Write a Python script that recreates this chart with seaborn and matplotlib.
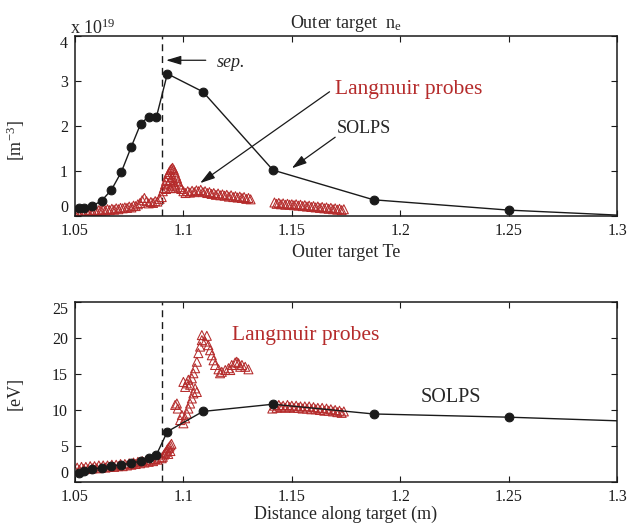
import matplotlib
matplotlib.use("Agg")
import matplotlib.pyplot as plt
import seaborn as sns

# ---------------- data ----------------
solps_x = [1.052, 1.054, 1.058, 1.0623, 1.0668, 1.0714, 1.0759, 1.0803, 1.084, 1.0875,
           1.0926, 1.109, 1.1413, 1.1877, 1.2502, 1.300]
solps_ne = [0.18, 0.18, 0.22, 0.34, 0.58, 0.98, 1.53, 2.05, 2.21, 2.19,
            3.16, 2.76, 1.02, 0.36, 0.13, 0.02]          # x 1e19 m^-3
solps_te = [1.3, 1.5, 1.75, 2.0, 2.2, 2.4, 2.6, 2.9, 3.3, 3.75,
            7.0, 9.8, 10.8, 9.45, 9.0, 8.5]              # eV

# Langmuir probes, ne (x 1e19 m^-3)
lp_ne_x_a = [1.050, 1.051, 1.052, 1.053, 1.054, 1.055, 1.056, 1.057, 1.058, 1.059,
             1.060, 1.061, 1.062, 1.063, 1.064, 1.065, 1.066, 1.067, 1.068, 1.069,
             1.070, 1.071, 1.072, 1.073, 1.074, 1.075, 1.076, 1.077, 1.078, 1.079,
             1.080, 1.081, 1.082, 1.083, 1.084, 1.085, 1.086, 1.087, 1.088, 1.089, 1.090]
lp_ne_a = [0.09, 0.11, 0.08, 0.11, 0.09, 0.12, 0.10, 0.12, 0.10, 0.13,
           0.11, 0.13, 0.12, 0.14, 0.12, 0.15, 0.13, 0.16, 0.14, 0.17,
           0.15, 0.18, 0.17, 0.19, 0.18, 0.21, 0.19, 0.23, 0.22, 0.26,
           0.29, 0.35, 0.40, 0.33, 0.28, 0.31, 0.29, 0.33, 0.32, 0.38, 0.42]
lp_ne_x_b = [1.0905, 1.091, 1.0915, 1.092, 1.0925, 1.093, 1.0935, 1.094, 1.0945, 1.095,
             1.0955, 1.096, 1.0965, 1.097, 1.0975, 1.098, 1.0985, 1.099,
             1.092, 1.093, 1.094, 1.094, 1.095, 1.095, 1.0955, 1.096, 1.0965]
lp_ne_b = [0.55, 0.62, 0.70, 0.78, 0.86, 0.93, 0.98, 1.02, 1.05, 1.07,
           1.03, 0.97, 0.90, 0.84, 0.77, 0.70, 0.64, 0.60,
           0.60, 0.72, 0.62, 0.80, 0.66, 0.86, 0.75, 0.68, 0.62]
lp_ne_x_c = [1.100, 1.101, 1.102, 1.103, 1.104, 1.105, 1.106, 1.107, 1.108, 1.109,
             1.110, 1.111, 1.112, 1.113, 1.114, 1.115, 1.116, 1.117, 1.118, 1.119,
             1.120, 1.121, 1.122, 1.123, 1.124, 1.125, 1.126, 1.127, 1.128, 1.129,
             1.130, 1.131]
lp_ne_c = [0.55, 0.51, 0.55, 0.52, 0.56, 0.53, 0.57, 0.55, 0.58, 0.53,
           0.55, 0.51, 0.53, 0.49, 0.51, 0.47, 0.50, 0.46, 0.48, 0.45,
           0.47, 0.43, 0.46, 0.42, 0.44, 0.41, 0.43, 0.40, 0.42, 0.38,
           0.40, 0.37]
lp_ne_x_d = [1.142, 1.143, 1.144, 1.145, 1.146, 1.147, 1.148, 1.149, 1.150, 1.151,
             1.152, 1.153, 1.154, 1.155, 1.156, 1.157, 1.158, 1.159, 1.160, 1.161,
             1.162, 1.163, 1.164, 1.165, 1.166, 1.167, 1.168, 1.169, 1.170, 1.171,
             1.172, 1.173, 1.174]
lp_ne_d = [0.30, 0.27, 0.29, 0.26, 0.28, 0.25, 0.27, 0.25, 0.26, 0.24,
           0.26, 0.23, 0.25, 0.22, 0.24, 0.21, 0.23, 0.20, 0.22, 0.19,
           0.21, 0.18, 0.20, 0.17, 0.19, 0.16, 0.18, 0.15, 0.17, 0.14,
           0.16, 0.13, 0.15]

# Langmuir probes, Te (eV)
lp_te_x_a = [1.050, 1.051, 1.052, 1.053, 1.054, 1.055, 1.056, 1.057, 1.058, 1.059,
             1.060, 1.061, 1.062, 1.063, 1.064, 1.065, 1.066, 1.067, 1.068, 1.069,
             1.070, 1.071, 1.072, 1.073, 1.074, 1.075, 1.076, 1.077, 1.078, 1.079,
             1.080, 1.081, 1.082, 1.083, 1.084, 1.085, 1.086, 1.087, 1.088, 1.089, 1.090]
lp_te_a = [1.6, 2.0, 1.7, 2.1, 1.8, 2.1, 1.8, 2.2, 1.9, 2.2,
           1.9, 2.3, 2.0, 2.3, 2.0, 2.3, 2.1, 2.4, 2.1, 2.4,
           2.2, 2.5, 2.2, 2.5, 2.3, 2.6, 2.4, 2.7, 2.5, 2.8,
           2.6, 2.9, 2.7, 3.0, 2.8, 3.1, 2.9, 3.2, 3.1, 3.4, 3.3]
lp_te_x_b = [1.0905, 1.091, 1.0915, 1.092, 1.0925, 1.093, 1.0935, 1.094, 1.0945, 1.093, 1.094,
             1.0962, 1.0970, 1.0974, 1.0993, 1.0985, 1.1000, 1.1008, 1.1016, 1.1023,
             1.1031, 1.1039, 1.1046, 1.1054, 1.1062, 1.1000, 1.1008, 1.1016, 1.1031,
             1.1023, 1.1039, 1.1046, 1.1054, 1.1062, 1.1069, 1.1077, 1.1085, 1.1085,
             1.1108, 1.1100, 1.1115, 1.1123, 1.1131, 1.1139, 1.1146, 1.1162, 1.1177,
             1.1193, 1.1208, 1.1223, 1.1239, 1.1254, 1.1270, 1.1285, 1.1300, 1.1169,
             1.1216, 1.1262, 1.1246]
lp_te_b = [3.5, 3.8, 4.0, 4.2, 4.5, 4.7, 4.9, 5.1, 5.3, 3.9, 4.3,
           10.7, 10.9, 10.2, 9.3, 8.6, 8.15, 8.85, 9.5, 10.2,
           10.9, 11.6, 12.3, 13.0, 12.5, 13.9, 13.2, 13.7, 13.5,
           14.2, 14.4, 15.1, 15.8, 16.7, 17.9, 18.8, 19.7, 20.4,
           20.3, 19.5, 19.0, 18.3, 17.6, 16.9, 16.25, 15.65, 15.3,
           15.55, 15.8, 16.25, 16.6, 16.5, 16.25, 16.0, 15.65, 15.1,
           15.55, 16.0, 16.7]
lp_te_x_c = [1.141, 1.142, 1.143, 1.144, 1.145, 1.146, 1.147, 1.148, 1.149, 1.150,
             1.151, 1.152, 1.153, 1.154, 1.155, 1.156, 1.157, 1.158, 1.159, 1.160,
             1.161, 1.162, 1.163, 1.164, 1.165, 1.166, 1.167, 1.168, 1.169, 1.170,
             1.171, 1.172, 1.173, 1.174]
lp_te_c = [10.2, 10.6, 10.3, 10.7, 10.4, 10.6, 10.3, 10.7, 10.4, 10.6,
           10.3, 10.6, 10.3, 10.5, 10.2, 10.5, 10.2, 10.5, 10.1, 10.4,
           10.1, 10.3, 10.0, 10.3, 9.9, 10.2, 9.9, 10.1, 9.8, 10.0,
           9.7, 9.9, 9.6, 9.8]

sep_x = 1.09
x_ticks = [1.05, 1.1, 1.15, 1.2, 1.25, 1.3]
x_ticklabels = ["1.05", "1.1", "1.15", "1.2", "1.25", "1.3"]
ne_ticks = [0, 1, 2, 3, 4]
te_ticks = [0, 5, 10, 15, 20, 25]

# ---------------- style ----------------
sns.set_theme(style="ticks")
plt.rcParams["font.family"] = ["Liberation Serif", "DejaVu Serif"]
plt.rcParams["mathtext.fontset"] = "custom"
plt.rcParams["mathtext.rm"] = "Liberation Serif"
plt.rcParams["mathtext.it"] = "Liberation Serif:italic"

RED = "#B52B2B"

fig = plt.figure(figsize=(6.41, 5.25), dpi=100)
ax1 = fig.add_axes([0.117, 0.5886, 0.8456, 0.3429])
ax2 = fig.add_axes([0.117, 0.0819, 0.8456, 0.3429])

n_solps = len(solps_x)

def draw(ax, lx, ly, sy):
    sns.scatterplot(x=lx, y=ly, ax=ax, marker="^", s=42, facecolor="none",
                    edgecolor=RED, linewidth=0.75, legend=False, zorder=2)
    sns.lineplot(x=solps_x, y=sy, ax=ax, color="k", lw=1.0, marker="o",
                 markersize=6.3, markeredgecolor="k", markerfacecolor="k",
                 markevery=list(range(n_solps - 1)), legend=False, zorder=3)
    ax.axvline(sep_x, color="k", lw=1.0, linestyle=(0, (5, 3.5)), zorder=1)
    ax.set_xlim(1.05, 1.3)
    ax.set_xticks(x_ticks)
    ax.set_xticklabels(x_ticklabels)
    ax.tick_params(direction="in", top=True, right=True, length=4.5, width=0.8,
                   labelsize=11.5, pad=5, colors="k")
    for sp in ax.spines.values():
        sp.set_linewidth(1.1)
        sp.set_color("k")
        sp.set_visible(True)
    ax.grid(False)

lx_ne = lp_ne_x_a + lp_ne_x_b + lp_ne_x_c + lp_ne_x_d
ly_ne = lp_ne_a + lp_ne_b + lp_ne_c + lp_ne_d
lx_te = lp_te_x_a + lp_te_x_b + lp_te_x_c
ly_te = lp_te_a + lp_te_b + lp_te_c

draw(ax1, lx_ne, ly_ne, solps_ne)
draw(ax2, lx_te, ly_te, solps_te)

ax1.set_ylim(0, 4)
ax1.set_yticks(ne_ticks)
ax1.set_yticklabels([str(t) for t in ne_ticks])
ax2.set_ylim(0, 25)
ax2.set_yticks(te_ticks)
ax2.set_yticklabels([str(t) for t in te_ticks])
for ax in (ax1, ax2):
    labs = ax.get_yticklabels()
    labs[0].set_va("bottom")
    labs[-1].set_va("top")

# labels
ax1.set_title(r"Outer target  $\mathregular{n_e}$", fontsize=13, pad=6)
ax1.text(-0.009, 1.011, r"x 10$^{19}$", transform=ax1.transAxes, fontsize=13,
         ha="left", va="baseline")
ax1.set_ylabel(r"[m$^{-3}$]", fontsize=13)
ax1.yaxis.set_label_coords(-0.088, 0.42)
ax1.set_xlabel("Outer target Te", fontsize=13)
ax1.xaxis.set_label_coords(0.5, -0.155)

ax2.set_ylabel("[eV]", fontsize=13)
ax2.yaxis.set_label_coords(-0.095, 0.49)
ax2.set_xlabel("Distance along target (m)", fontsize=13)
ax2.xaxis.set_label_coords(0.5, -0.13)

# annotations, top panel
arrow = dict(arrowstyle="-|>,head_length=0.6,head_width=0.18", color="k", lw=0.9,
             shrinkA=0, shrinkB=0, mutation_scale=15)
ax1.annotate("", xy=(1.0920, 3.46), xytext=(1.1103, 3.46), arrowprops=arrow)
ax1.text(1.1154, 3.40, "sep.", fontsize=13, style="italic", ha="left", va="center")
ax1.annotate("", xy=(1.1077, 0.73), xytext=(1.1674, 2.76), arrowprops=arrow)
ax1.text(1.170, 2.82, "Langmuir probes", color=RED, fontsize=15.5, ha="left", va="center")
ax1.annotate("", xy=(1.150, 1.06), xytext=(1.170, 1.75), arrowprops=arrow)
ax1.text(1.1708, 1.94, "SOLPS", fontsize=13, ha="left", va="center")

# annotations, bottom panel
ax2.text(1.1223, 20.4, "Langmuir probes", color=RED, fontsize=15.5, ha="left", va="center")
ax2.text(1.2093, 11.8, "SOLPS", fontsize=14.5, ha="left", va="center")

fig.savefig("out.png", dpi=100)
